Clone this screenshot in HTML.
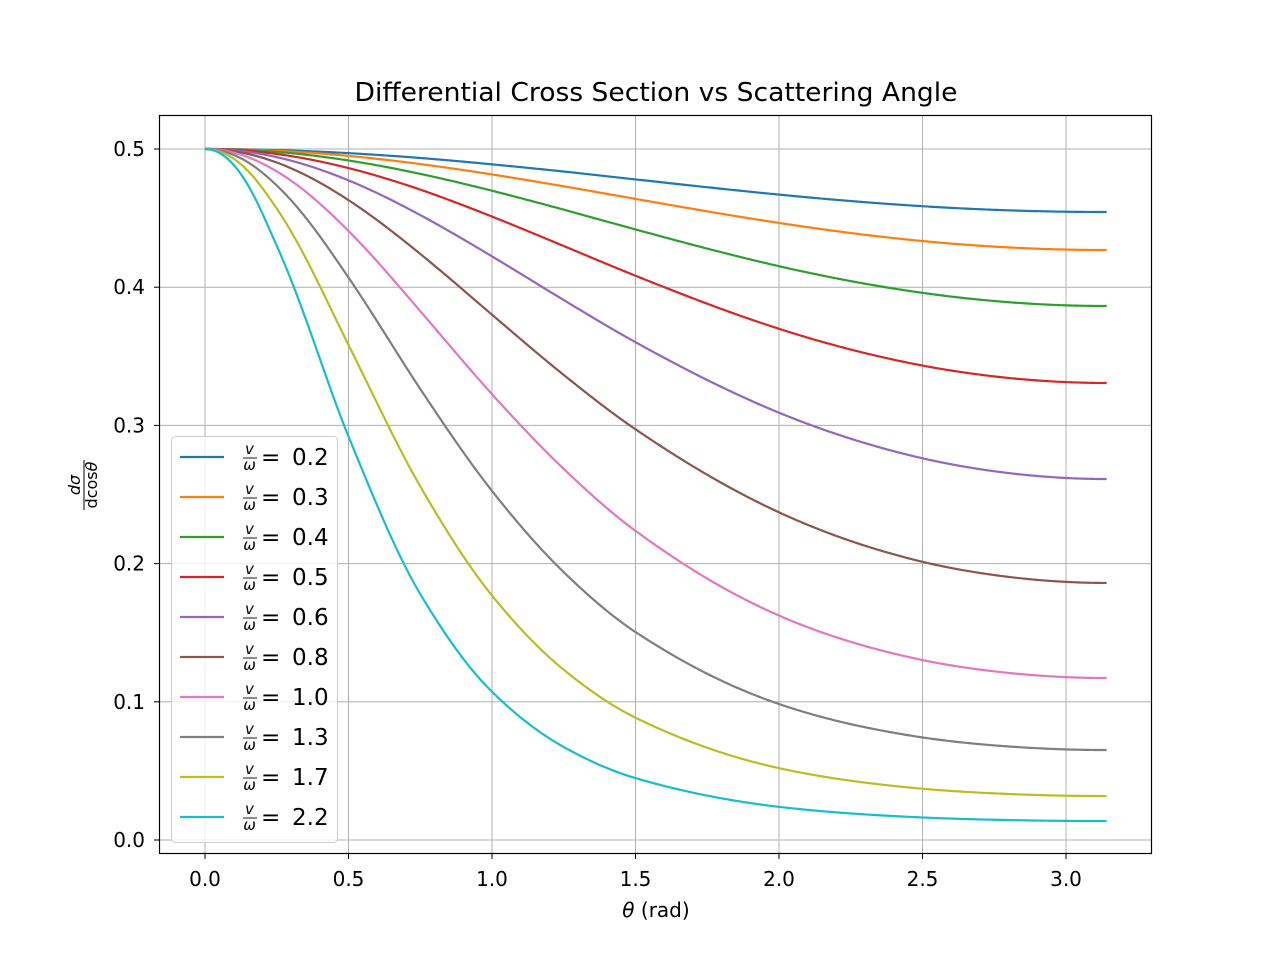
<!DOCTYPE html>
<html><head><meta charset="utf-8"><style>
body{margin:0;background:#fff}
svg{display:block;font-family:"DejaVu Sans","Liberation Sans",sans-serif}
</style></head><body>
<svg id="chart" width="1280" height="960" viewBox="0 0 1280 960" xmlns="http://www.w3.org/2000/svg">
<rect width="1280" height="960" fill="#fff"/>
<text x="656" y="101" font-size="26" text-anchor="middle" textLength="603" lengthAdjust="spacingAndGlyphs">Differential Cross Section vs Scattering Angle</text>
<g id="grid"></g>
<g id="series"></g>
<rect x="159.5" y="115.5" width="992" height="738" fill="none" stroke="#000" stroke-width="1.2"/>
<g id="ticks"></g>
<text x="656" y="917" font-size="20" text-anchor="middle"><tspan font-style="italic">θ</tspan> (rad)</text>
<g transform="translate(84,485) rotate(-90)">
<text x="0" y="-4" font-size="16" text-anchor="middle" font-style="italic">dσ</text>
<line x1="-25" x2="25" y1="0" y2="0" stroke="#000" stroke-width="1"/>
<text x="0" y="13" font-size="16" text-anchor="middle">d<tspan>cos</tspan><tspan font-style="italic">θ</tspan></text>
</g>
<g id="legend"></g>
</svg>
<script>
const thetas=[0,0.25,0.5,0.75,1.0,1.25,1.5,2.0,2.5,3.1416];
const ratioLabels=["0.2","0.3","0.4","0.5","0.6","0.8","1.0","1.3","1.7","2.2"];
const colors=["#1f77b4","#ff7f0e","#2ca02c","#d62728","#9467bd","#8c564b","#e377c2","#7f7f7f","#bcbd22","#17becf"];
const s02=[.5,.4992,.4970,.4935,.4889,.4837,.4780,.4670,.4586,.4544];
const s03=[.5,.4987,.4950,.4891,.4816,.4730,.4639,.4465,.4334,.4269];
const s04=[.5,.4979,.4917,.4820,.4698,.4561,.4418,.4152,.3959,.3864];
const s05=[.5,.4964,.4862,.4706,.4511,.4298,.4083,.3699,.3433,.3307];
const s06=[.5,.4941,.4773,.4522,.4223,.3907,.3602,.3092,.2762,.2612];
const s08=[.5,.4902,.4630,.4241,.3801,.3365,.2972,.2371,.2013,.1860];
const s10=[.5,.4838,.4407,.3827,.3226,.2685,.2237,.1624,.1302,.1172];
const s13=[.5,.4736,.4070,.3264,.2526,.1938,.1505,.0984,.0742,.0651];
const s17=[.5,.4569,.3582,.2559,.1769,.1232,.0885,.0520,.0371,.0318];
const s22=[.5,.4300,.2920,.1780,.1073,.0673,.0448,.0240,.0163,.0137];
const seriesData=[s02,s03,s04,s05,s06,s08,s10,s13,s17,s22];
const xTicks=[0,0.5,1,1.5,2,2.5,3];
const yTicks=[0,0.1,0.2,0.3,0.4,0.5];

const NS="http://www.w3.org/2000/svg";
const X=v=>205+v*287;
const Y=v=>840-v*1382;
function mk(tag,attrs,parent){const e=document.createElementNS(NS,tag);for(const k in attrs)e.setAttribute(k,attrs[k]);parent.appendChild(e);return e;}
const grid=document.getElementById('grid'),ticks=document.getElementById('ticks');
xTicks.forEach(t=>{
  const g=mk('line',{x1:X(t),x2:X(t),y1:115,y2:854,stroke:'#b0b0b0','stroke-width':1},grid);
  
  
  mk('line',{x1:X(t),x2:X(t),y1:854,y2:859,stroke:'#000'},ticks);
  const l=mk('text',{x:X(t),y:886,'font-size':20,'text-anchor':'middle'},ticks);
  l.textContent=t.toFixed(1);
  
  
});
yTicks.forEach(t=>{
  const g=mk('line',{x1:159,x2:1152,y1:Y(t),y2:Y(t),stroke:'#b0b0b0','stroke-width':1},grid);
  
  
  mk('line',{x1:154,x2:159,y1:Y(t),y2:Y(t),stroke:'#000'},ticks);
  const l=mk('text',{x:145,y:Y(t)+7,'font-size':20,'text-anchor':'end'},ticks);
  l.textContent=t.toFixed(1);
  
  
});
// interpolate in s = sin^2(theta/2) space for smoothness
const S=t=>Math.pow(Math.sin(t/2),2);
function monotone(xs,ys){
  const n=xs.length,d=[],m=new Array(n);
  for(let i=0;i<n-1;i++)d.push((ys[i+1]-ys[i])/(xs[i+1]-xs[i]));
  m[0]=d[0];m[n-1]=d[n-2];
  for(let i=1;i<n-1;i++){
    if(d[i-1]*d[i]<=0){m[i]=0;continue;}
    const h0=xs[i]-xs[i-1],h1=xs[i+1]-xs[i],w1=2*h1+h0,w2=h1+2*h0;
    m[i]=(w1+w2)/(w1/d[i-1]+w2/d[i]);
  }
  return function(x){
    let i=0;while(i<n-2&&x>xs[i+1])i++;
    const h=xs[i+1]-xs[i],t=(x-xs[i])/h,t2=t*t,t3=t2*t;
    return (2*t3-3*t2+1)*ys[i]+(t3-2*t2+t)*h*m[i]+(-2*t3+3*t2)*ys[i+1]+(t3-t2)*h*m[i+1];
  };
}
const sg=document.getElementById('series');
seriesData.forEach((ys,k)=>{
  const f=monotone(thetas.map(S),ys);const pts=[];
  const xmax=thetas[thetas.length-1];
  for(let j=0;j<=400;j++){const x=xmax*j/400;pts.push(X(x).toFixed(2)+','+Y(f(Math.min(1,S(x)))).toFixed(2));}
  const p=mk('polyline',{points:pts.join(' '),fill:'none',stroke:colors[k],'stroke-width':2.2},sg);
  
  
});
const lg=document.getElementById('legend');
const box=mk('rect',{x:171.5,y:436.5,width:166,height:406,rx:4,fill:'#fff','fill-opacity':0.8,stroke:'#ccc'},lg);


ratioLabels.forEach((lab,k)=>{
  const cy=457+k*40;
  const g=mk('g',{},lg);
  
  
  mk('line',{x1:180,x2:224,y1:cy,y2:cy,stroke:colors[k],'stroke-width':2.2},g);
  const v=mk('text',{x:249.5,y:cy-3,'font-size':15,'text-anchor':'middle','font-style':'italic'},g);v.textContent='v';
  mk('line',{x1:243,x2:257,y1:cy+1,y2:cy+1,stroke:'#000','stroke-width':0.9},g);
  const w=mk('text',{x:249.5,y:cy+13,'font-size':15,'text-anchor':'middle','font-style':'italic'},g);w.textContent='ω';
  const t=mk('text',{x:261,y:cy+8,'font-size':23},g);t.textContent='=';
  const n=mk('text',{x:292,y:cy+8,'font-size':23},g);n.textContent=lab;
});
</script>
</body></html>
